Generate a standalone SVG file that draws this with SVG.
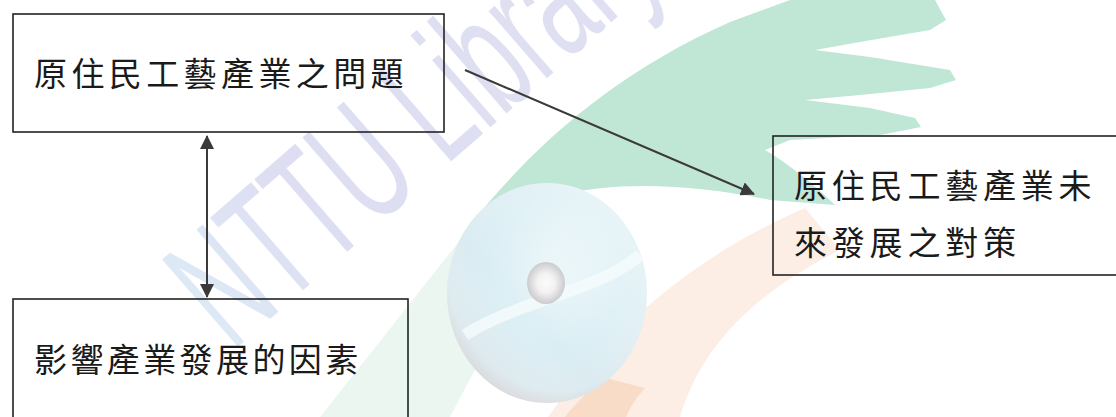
<svg xmlns="http://www.w3.org/2000/svg" width="1116" height="417" viewBox="0 0 1116 417">
<style>
.box{fill:none;stroke:#222;stroke-width:1.6}
.lbl{font-family:"Noto Sans CJK TC","Noto Sans CJK SC",sans-serif;font-size:33px;fill:#1a1a1a}
.conn{stroke:#3a3a3a;stroke-width:2;fill:none}
</style>
<defs>
<marker id="ah" viewBox="0 0 14 14" refX="13" refY="7" markerWidth="14" markerHeight="14" markerUnits="userSpaceOnUse" orient="auto-start-reverse">
<path d="M0,0 L14,7 L0,14 Z" fill="#3a3a3a"/>
</marker>
<radialGradient id="disc" cx="0.55" cy="0.4" r="0.62">
<stop offset="0" stop-color="#eaf5f8"/>
<stop offset="0.55" stop-color="#d9eef4"/>
<stop offset="0.88" stop-color="#dcebf0"/>
<stop offset="1" stop-color="#d8d8dc"/>
</radialGradient>
<linearGradient id="discshade" x1="1" y1="0" x2="0" y2="1">
<stop offset="0" stop-color="#ffffff" stop-opacity="0.5"/>
<stop offset="0.6" stop-color="#ffffff" stop-opacity="0"/>
<stop offset="1" stop-color="#c8c8cc" stop-opacity="0.5"/>
</linearGradient>
<radialGradient id="hole" cx="0.5" cy="0.5" r="0.5">
<stop offset="0" stop-color="#fbfbfb"/>
<stop offset="0.45" stop-color="#f3f3f3"/>
<stop offset="1" stop-color="#cbcbce"/>
</radialGradient>
<linearGradient id="wm" x1="0" y1="0" x2="1" y2="0">
<stop offset="0" stop-color="#dceaf6"/>
<stop offset="0.25" stop-color="#dedef2"/>
<stop offset="1" stop-color="#e0e0f3"/>
</linearGradient>
</defs>
<rect width="1116" height="417" fill="#fff"/>
<g id="watermark">
<path d="M320,417 L480,215 L565,200 L450,417 Z" fill="#ecf6f0"/>
<path d="M548,417 C610,330 690,258 805,208 L840,250 C750,295 700,350 680,417 Z" fill="#fdeee5"/>
<path d="M565,417 C578,400 592,388 606,378 L645,388 C636,398 630,408 626,417 Z" fill="#f9dcc8"/>
<path d="M470,225 C530,150 610,75 730,22 L790,0 L935,0 L946,20 L930,30 L860,42 L815,50 L870,57 L950,70 L956,80 L930,88 L860,95 L805,100 L870,108 L915,118 L921,127 L880,135 L790,140 L765,150 C790,165 815,185 835,205 L770,200 C700,185 620,180 560,195 Z" fill="#c0e6d6"/>
<ellipse cx="547" cy="293" rx="100" ry="110" fill="url(#disc)"/>
<ellipse cx="547" cy="293" rx="100" ry="110" fill="url(#discshade)"/>
<path d="M465,335 C520,300 600,290 640,255" stroke="#f4fafc" stroke-width="12" fill="none" opacity="0.85"/>
<ellipse cx="546" cy="283" rx="19" ry="21" fill="url(#hole)"/>
<text transform="translate(232,352) rotate(-41) scale(0.6,1.05)" font-family="Liberation Sans, sans-serif" font-size="160" fill="url(#wm)">NTTU Library</text>
</g>
<g id="connectors">
<line class="conn" x1="207" y1="136" x2="207" y2="297" marker-start="url(#ah)" marker-end="url(#ah)"/>
<line class="conn" x1="465" y1="70" x2="754" y2="194" marker-end="url(#ah)"/>
</g>
<g id="node-problems">
<rect class="box" x="13" y="14" width="431" height="118"/>
<text class="lbl" x="34" y="86" letter-spacing="4.4">原住民工藝產業之問題</text>
</g>
<g id="node-strategy">
<rect class="box" x="773" y="136" width="360" height="139"/>
<text class="lbl" x="794" y="198" letter-spacing="4.8">原住民工藝產業未</text>
<text class="lbl" x="794" y="255" letter-spacing="4.8">來發展之對策</text>
</g>
<g id="node-factors">
<rect class="box" x="13" y="299" width="395" height="130"/>
<text class="lbl" x="34" y="372" letter-spacing="3.4">影響產業發展的因素</text>
</g>
</svg>
